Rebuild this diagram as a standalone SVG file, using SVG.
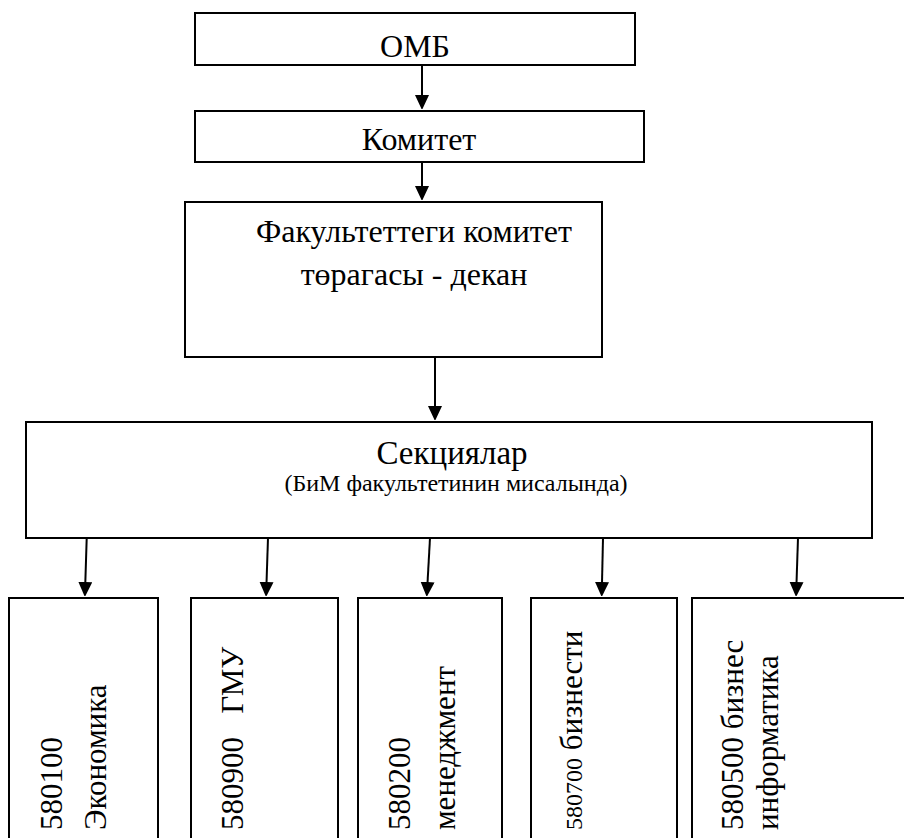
<svg xmlns="http://www.w3.org/2000/svg" width="904" height="838" viewBox="0 0 904 838">
<style>
  .box { fill: #ffffff; stroke: #000000; stroke-width: 2; }
  .t { font-family: 'Liberation Serif', 'Times New Roman', serif; font-size: 31px; fill: #000000; }
  .h { font-size: 32px; }
  .c { text-anchor: middle; }
  .title { font-size: 33px; }
  .sub { font-size: 24px; }
  .small { font-size: 24px; }
  .conn { stroke: #000000; stroke-width: 2; fill: none; marker-end: url(#ah); }
</style>
<defs>
  <marker id="ah" markerUnits="userSpaceOnUse" markerWidth="14" markerHeight="15" refX="1" refY="7" orient="auto">
    <path d="M0,0 L15,7 L0,14 Z" fill="#000000"/>
  </marker>
</defs>
<rect x="0" y="0" width="904" height="838" fill="#ffffff"/>
<g id="connectors">
  <line class="conn" x1="422" y1="65" x2="422" y2="96"/>
  <line class="conn" x1="422" y1="162" x2="422" y2="187"/>
  <line class="conn" x1="435" y1="357" x2="435" y2="407"/>
  <line class="conn" x1="86.7" y1="538" x2="85.3" y2="583"/>
  <line class="conn" x1="268" y1="538" x2="266.5" y2="583"/>
  <line class="conn" x1="430" y1="538" x2="427.5" y2="583"/>
  <line class="conn" x1="603" y1="538" x2="602" y2="583"/>
  <line class="conn" x1="798" y1="538" x2="796.5" y2="583"/>
</g>
<g id="omb">
  <rect class="box" x="195" y="13" width="440" height="52"/>
  <text class="t h c" x="415" y="57">ОМБ</text>
</g>
<g id="komitet">
  <rect class="box" x="195" y="111" width="449" height="51"/>
  <text class="t h c" x="419" y="150">Комитет</text>
</g>
<g id="dekan">
  <rect class="box" x="185" y="202" width="417" height="155"/>
  <text class="t h c" x="414" y="242">Факультеттеги комитет</text>
  <text class="t h c" x="414" y="285">төрагасы - декан</text>
</g>
<g id="sektsiyalar">
  <rect class="box" x="26" y="422" width="846" height="116"/>
  <text class="t title c" x="452" y="464">Секциялар</text>
  <text class="t sub c" x="456" y="491">(БиМ факультетинин мисалында)</text>
</g>
<g id="s580100">
  <rect class="box" x="9" y="598" width="149" height="260"/>
  <text class="t" transform="translate(62,830) rotate(-90)">580100</text>
  <text class="t" transform="translate(106,830) rotate(-90)">Экономика</text>
</g>
<g id="s580900">
  <rect class="box" x="191" y="598" width="147" height="260"/>
  <text class="t" transform="translate(243,830) rotate(-90)" xml:space="preserve" style="white-space:pre">580900   ГМУ</text>
</g>
<g id="s580200">
  <rect class="box" x="358" y="598" width="144" height="260"/>
  <text class="t" transform="translate(410,830) rotate(-90)">580200</text>
  <text class="t" transform="translate(455,830) rotate(-90)">менеджмент</text>
</g>
<g id="s580700">
  <rect class="box" x="531" y="598" width="146" height="260"/>
  <text class="t" transform="translate(582,830) rotate(-90)"><tspan class="small">580700</tspan> бизнести</text>
</g>
<g id="s580500">
  <rect class="box" x="692" y="598" width="260" height="260"/>
  <text class="t" transform="translate(743,830) rotate(-90)">580500 бизнес</text>
  <text class="t" transform="translate(778,830) rotate(-90)">информатика</text>
</g>
</svg>
